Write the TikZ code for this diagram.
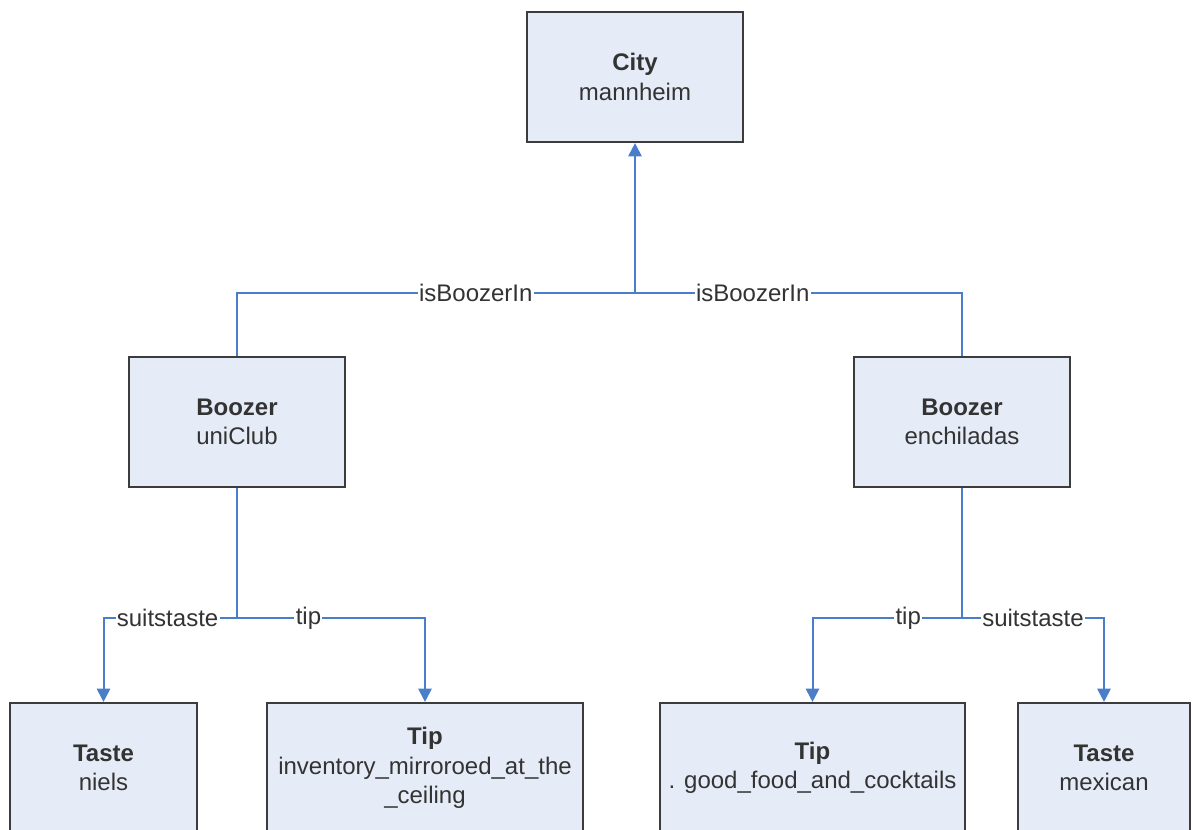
\documentclass[tikz,border=0pt]{standalone}
\usepackage{fontspec}
\setmainfont{Liberation Sans}
\usetikzlibrary{arrows.meta}
\definecolor{boxfill}{HTML}{E6ECF7}
\definecolor{boxline}{HTML}{3C3C3C}
\definecolor{linkblue}{HTML}{4A7EC9}

\begin{document}
\begin{tikzpicture}[x=0.75pt, y=-0.75pt]
        \tikzstyle{every node}=[font=\fontsize{18}{22}\selectfont, text=black!80]
        \tikzstyle{entity}=[draw=boxline, fill=boxfill, line width=1.6pt, align=center, inner sep=0pt, minimum height=97.5pt]
        \tikzstyle{link}=[draw=linkblue, line width=1.5pt]
        \tikzstyle{linkarrow}=[link, -{Triangle[length=10pt, width=10pt]}]
        \tikzstyle{role}=[fill=white, inner sep=1pt]

        \useasboundingbox (0,0) rectangle (1192,829);
        \clip (0,0) rectangle (1192,829);

% boxes of the object graph

        \node[entity, minimum width=162pt] (city) at (635,77) {\textbf{City}\\mannheim};
        \node[entity, minimum width=162pt] (uniclub) at (237,422) {\textbf{Boozer}\\uniClub};
        \node[entity, minimum width=162pt] (enchiladas) at (962,422) {\textbf{Boozer}\\enchiladas};
        \node[entity, minimum width=140pt] (niels) at (103.5,768) {\textbf{Taste}\\niels};
        \node[entity, minimum width=237pt] (inventory) at (425,768) {\textbf{Tip}\\inventory\_mirroroed\_at\_the\\\_ceiling};
        \node[entity, minimum width=229pt] (goodfood) at (812.5,768) {\textbf{Tip}\\. good\_food\_and\_cocktails};
        \node[entity, minimum width=129pt] (mexican) at (1104,768) {\textbf{Taste}\\mexican};

        \coordinate (jcity) at (635,293);
        \coordinate (juni) at (237,618);
        \coordinate (jench) at (962,618);

% isBoozerIn links

        \draw[link] (uniclub.north) |- node[role, pos=0.8] {isBoozerIn} (jcity);
        \draw[link] (enchiladas.north) |- node[role, pos=0.82] {isBoozerIn} (jcity);
        \draw[linkarrow] (jcity) -- (city.south);

% suitstaste and tip links

        \draw[link] (uniclub.south) -- (juni);
        \draw[linkarrow] (juni) -| node[role, pos=0.26] {suitstaste} (niels.north);
        \draw[linkarrow] (juni) -| node[role, pos=0.19] {tip} (inventory.north);
        \draw[link] (enchiladas.south) -- (jench);
        \draw[linkarrow] (jench) -| node[role, pos=0.18] {tip} (goodfood.north);
        \draw[linkarrow] (jench) -| node[role, pos=0.25] {suitstaste} (mexican.north);

    \end{tikzpicture}
\end{document}
